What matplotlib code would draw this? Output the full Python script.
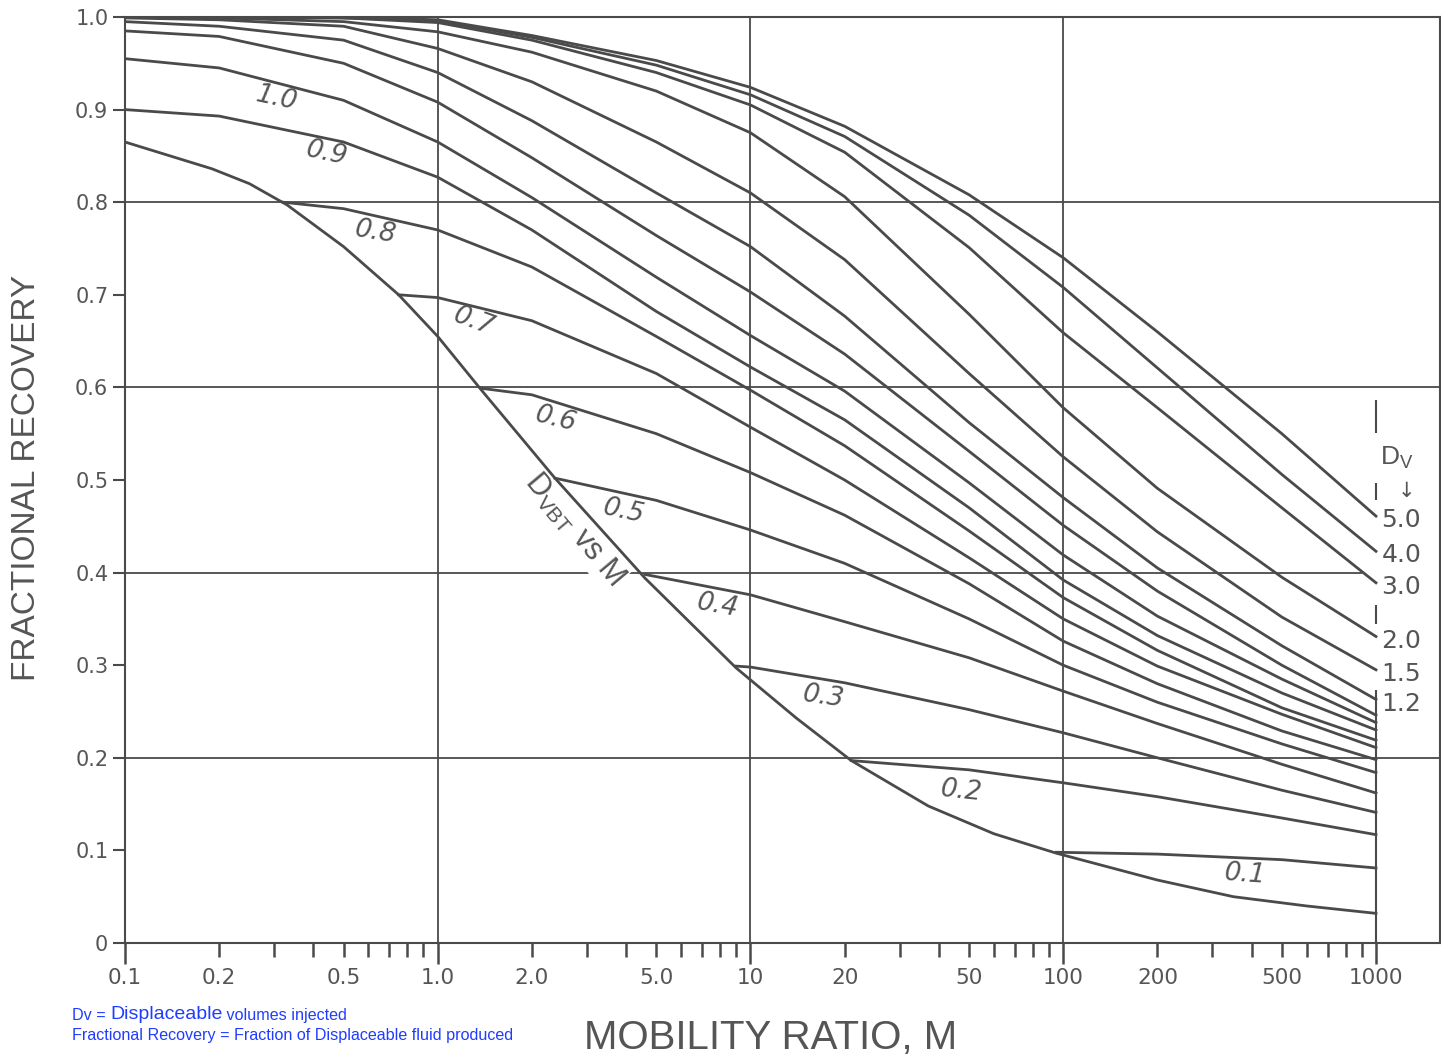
import numpy as np
import matplotlib.pyplot as plt
from matplotlib import font_manager
from matplotlib.ticker import FixedLocator, FuncFormatter

# breakthrough curve (Dv at breakthrough vs M)
m_bt = [0.1, 0.19, 0.25, 0.33, 0.5, 0.75, 1.0, 1.38, 2.37, 4.6, 9.0, 14, 21, 37, 60, 95, 200, 350, 600, 1000]
fr_bt = [0.865, 0.836, 0.82, 0.797, 0.752, 0.70, 0.655, 0.597, 0.502, 0.394, 0.297, 0.243, 0.197,
         0.148, 0.118, 0.097, 0.068, 0.05, 0.04, 0.032]

# curves of constant Dv below 0.9 start on the breakthrough curve
m_dv01 = [95, 200, 500, 1000]
fr_dv01 = [0.098, 0.096, 0.09, 0.081]
m_dv02 = [21, 50, 100, 200, 500, 1000]
fr_dv02 = [0.197, 0.187, 0.173, 0.158, 0.135, 0.117]
m_dv03 = [9.0, 10, 20, 50, 100, 200, 500, 1000]
fr_dv03 = [0.299, 0.298, 0.281, 0.252, 0.227, 0.20, 0.165, 0.141]
m_dv04 = [4.6, 10, 20, 50, 100, 200, 500, 1000]
fr_dv04 = [0.398, 0.376, 0.347, 0.308, 0.272, 0.237, 0.193, 0.162]
m_dv05 = [2.37, 5, 10, 20, 50, 100, 200, 500, 1000]
fr_dv05 = [0.502, 0.478, 0.446, 0.41, 0.35, 0.300, 0.26, 0.215, 0.184]
m_dv06 = [1.38, 2, 5, 10, 20, 50, 100, 200, 500, 1000]
fr_dv06 = [0.599, 0.592, 0.55, 0.508, 0.462, 0.388, 0.326, 0.280, 0.229, 0.198]
m_dv07 = [0.75, 1, 2, 5, 10, 20, 50, 100, 200, 500, 1000]
fr_dv07 = [0.70, 0.697, 0.672, 0.615, 0.557, 0.500, 0.416, 0.350, 0.299, 0.247, 0.211]
m_dv08 = [0.32, 0.5, 1, 2, 5, 10, 20, 50, 100, 200, 500, 1000]
fr_dv08 = [0.80, 0.793, 0.770, 0.73, 0.655, 0.597, 0.537, 0.445, 0.373, 0.316, 0.254, 0.219]

# curves that start at the left edge share one M grid
m_grid = [0.1, 0.2, 0.5, 1, 2, 5, 10, 20, 50, 100, 200, 500, 1000]
fr_dv09 = [0.90, 0.893, 0.865, 0.827, 0.77, 0.682, 0.622, 0.565, 0.47, 0.392, 0.332, 0.27, 0.230]
fr_dv10 = [0.955, 0.945, 0.91, 0.865, 0.805, 0.719, 0.656, 0.596, 0.497, 0.419, 0.353, 0.285, 0.238]
fr_dv11 = [0.985, 0.979, 0.95, 0.908, 0.848, 0.764, 0.703, 0.636, 0.531, 0.451, 0.38, 0.30, 0.246]
fr_dv12 = [0.995, 0.99, 0.975, 0.94, 0.888, 0.81, 0.752, 0.677, 0.562, 0.481, 0.405, 0.321, 0.263]
fr_dv15 = [0.999, 0.997, 0.99, 0.966, 0.93, 0.865, 0.810, 0.738, 0.615, 0.525, 0.444, 0.352, 0.295]
fr_dv20 = [1.0, 0.999, 0.995, 0.984, 0.962, 0.92, 0.875, 0.806, 0.679, 0.578, 0.491, 0.395, 0.331]
fr_dv30 = [1.0, 1.0, 0.999, 0.994, 0.975, 0.94, 0.905, 0.854, 0.751, 0.659, 0.578, 0.47, 0.389]
fr_dv40 = [1.0, 1.0, 0.999, 0.996, 0.978, 0.948, 0.916, 0.871, 0.786, 0.708, 0.621, 0.506, 0.423]
fr_dv50 = [1.0, 1.0, 1.0, 0.997, 0.98, 0.953, 0.924, 0.882, 0.808, 0.740, 0.66, 0.55, 0.461]

low_labels = ['0.1', '0.2', '0.3', '0.4', '0.5', '0.6', '0.7', '0.8', '0.9', '1.0']
right_labels = ['5.0', '4.0', '3.0', '2.0', '1.5', '1.2']
y_ticks = [0, 0.1, 0.2, 0.3, 0.4, 0.5, 0.6, 0.7, 0.8, 0.9, 1.0]
y_tick_labels = ['0', '0.1', '0.2', '0.3', '0.4', '0.5', '0.6', '0.7', '0.8', '0.9', '1.0']
x_major = [0.1, 1, 10, 100, 1000]
x_labels = {0.1: '0.1', 0.2: '0.2', 0.5: '0.5', 1: '1.0', 2: '2.0', 5: '5.0',
            10: '10', 20: '20', 50: '50', 100: '100', 200: '200', 500: '500', 1000: '1000'}

ink = '#4a4a4a'
txt = '#555555'
num_font = 'DejaVu Sans'
plt.rcParams['font.family'] = ['Liberation Sans', 'DejaVu Sans']

fig = plt.figure(figsize=(14.41, 10.59), dpi=100)
ax = fig.add_axes([125 / 1441, 1 - 943 / 1059, 1315 / 1441, 926 / 1059])
ax.set_xscale('log')
ax.set_xlim(0.1, 1602)
ax.set_ylim(0, 1.0)

# grid
for gx in [1, 10, 100]:
    ax.axvline(gx, color=ink, lw=1.3, zorder=1)
for gy in [0.2, 0.6, 0.8]:
    ax.axhline(gy, color=ink, lw=1.3, zorder=1)
ax.hlines(0.4, 0.1, 900, color=ink, lw=1.3, zorder=1)

# curves
ax.plot(m_bt, fr_bt, color=ink, lw=2.0, zorder=3)
low_m = [m_dv01, m_dv02, m_dv03, m_dv04, m_dv05, m_dv06, m_dv07, m_dv08]
low_fr = [fr_dv01, fr_dv02, fr_dv03, fr_dv04, fr_dv05, fr_dv06, fr_dv07, fr_dv08]
for mm, ff in zip(low_m, low_fr):
    ax.plot(mm, ff, color=ink, lw=2.0, zorder=3, solid_joinstyle='round')
upper = [fr_dv09, fr_dv10, fr_dv11, fr_dv12, fr_dv15, fr_dv20, fr_dv30, fr_dv40, fr_dv50]
for ff in upper:
    ax.plot(m_grid, ff, color=ink, lw=2.0, zorder=3, solid_joinstyle='round')

# vertical line at M = 1000 (broken by the labels)
ax.vlines(1000, 0, fr_dv12[-1] + 0.01, color=ink, lw=1.5)
ax.vlines([1000, 1000, 1000], [0.345, 0.478, 0.551], [0.365, 0.497, 0.586], color=ink, lw=1.5)

# curve labels
lab_m = [381, 47.1, 17.1, 7.87, 3.94, 2.39, 1.30, 0.63, 0.44, 0.306]
lab_fr = [0.0745, 0.164, 0.2657, 0.364, 0.4665, 0.566, 0.671, 0.767, 0.853, 0.9125]
lab_rot = [-4, -6, -8, -10, -12, -14, -20, -9, -12, -12]
for s, xm, yf, r in zip(low_labels, lab_m, lab_fr, lab_rot):
    ax.text(xm, yf, s, rotation=r, ha='center', va='center', fontsize=19, family=num_font,
            style='italic', color=txt, rotation_mode='anchor', zorder=4)

ax.text(2.72, 0.447, r'D$_{\mathregular{VBT}}$ vs M', rotation=-50, ha='center', va='center',
        fontsize=22, color=txt, rotation_mode='anchor', zorder=2,
        bbox=dict(facecolor='white', edgecolor='none', pad=1))

right_ends = [fr_dv50[-1], fr_dv40[-1], fr_dv30[-1], fr_dv20[-1], fr_dv15[-1], fr_dv12[-1]]
for s, yf in zip(right_labels, right_ends):
    ax.annotate(s, (1000, yf), xytext=(4, -3), textcoords='offset points', family=num_font,
                ha='left', va='center', fontsize=18, color=txt)
ax.annotate(r'D$_{\mathregular{V}}$', (1000, 0.524), xytext=(3, 0), textcoords='offset points',
            ha='left', va='center', fontsize=19, color=txt)
ax.annotate('\u2193', (1000, 0.488), xytext=(16, 0), textcoords='offset points',
            ha='left', va='center', fontsize=15, color=txt, family='DejaVu Sans')

# axes, ticks
for sp in ax.spines.values():
    sp.set_color(ink)
    sp.set_linewidth(1.5)
ax.set_yticks(y_ticks)
ax.set_yticklabels(y_tick_labels, family=num_font)
ax.xaxis.set_major_locator(FixedLocator(x_major))
minor = [k * d for d in [0.1, 1, 10, 100] for k in range(2, 10)]
ax.xaxis.set_minor_locator(FixedLocator(minor))
fmt = FuncFormatter(lambda v, p: next((l for k, l in x_labels.items() if abs(v - k) < 1e-6 * k), ''))
ax.xaxis.set_major_formatter(fmt)
ax.xaxis.set_minor_formatter(fmt)
ax.tick_params(axis='x', which='major', length=15, width=1.8, color=ink, labelsize=15.5,
               labelcolor=txt, pad=3)
ax.tick_params(axis='x', which='minor', length=10, width=1.8, color=ink, labelsize=15.5,
               labelcolor=txt, pad=8)
ax.tick_params(axis='y', length=9, width=1.5, color=ink, labelsize=15, labelcolor=txt, pad=3)
for lab in ax.get_xticklabels(which='both'):
    lab.set_family(num_font)

fig.text(27 / 1441, 1 - 478 / 1059, 'FRACTIONAL RECOVERY', rotation=90, ha='center',
         va='center', fontsize=24, color=txt)
fig.text(771 / 1441, 2 / 1059, 'MOBILITY RATIO, M', ha='center', va='bottom',
         fontsize=29, color=txt)

# blue notes
names = {f.name for f in font_manager.fontManager.ttflist}
if 'Liberation Sans Narrow' in names:
    nf, ns, nb = 'Liberation Sans Narrow', 13.5, 17
else:
    nf, ns, nb = 'Liberation Sans', 11.6, 14
blue = '#1f3cff'
t1 = fig.text(72 / 1441, 1 - 1020 / 1059, 'Dv = ', fontsize=ns, color=blue, family=nf,
              va='baseline')
t2 = ax.annotate('Displaceable', xy=(1, 0), xycoords=t1, va='bottom', ha='left',
                 fontsize=nb, color=blue, family=nf, annotation_clip=False)
ax.annotate(' volumes injected', xy=(1, 0), xycoords=t2, va='bottom', ha='left',
            fontsize=ns, color=blue, family=nf, annotation_clip=False)
fig.text(72 / 1441, 1 - 1040 / 1059, 'Fractional Recovery = Fraction of Displaceable fluid produced',
         fontsize=ns, color=blue, family=nf, va='baseline')

fig.savefig('out.png', dpi=100, facecolor='white')
